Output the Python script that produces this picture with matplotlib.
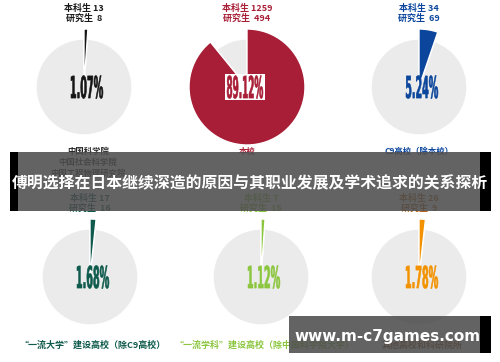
import matplotlib
matplotlib.use("Agg")
import matplotlib.pyplot as plt
from matplotlib.font_manager import FontProperties
from matplotlib.patches import PathPatch, Rectangle
from matplotlib.textpath import TextPath
from matplotlib.transforms import Affine2D

plt.rcParams["font.family"] = ["Noto Sans CJK SC", "DejaVu Sans"]

# data
categories = ["中国科学院\n中国社会科学院\n中国工程物理研究院", "本校", "C9高校（除本校）",
              "“一流大学”建设高校（除C9高校）", "“一流学科”建设高校（除中国科学院大学）", "其他高校和科研院所"]
undergrad = [13, 1259, 34, 17, 7, 26]
graduate = [8, 494, 69, 16, 15, 9]
shares = [1.07, 89.12, 5.24, 1.68, 1.12, 1.78]
pct_labels = ["1.07%", "89.12%", "5.24%", "1.68%", "1.12%", "1.78%"]

colors = ["#151515", "#a81e36", "#0b469c", "#0e5a4c", "#8cc63f", "#f39200"]
text_colors = ["#1a1a1a", "#a81e36", "#0b469c", "#0e5a4c", "#8cc63f", "#b5651d"]
cat_colors = ["#2a2a2a", "#a81e36", "#0b469c", "#0e5a4c", "#8cc63f", "#8a4a12"]

title = "傅明选择在日本继续深造的原因与其职业发展及学术追求的关系探析"
watermark = "www.m-c7games.com"

W, H = 500, 362
centers = [(84, 87), (247, 87), (419, 87), (90, 277), (261, 277), (419, 277)]
r_small, r_big = 48, 58
gray = "#ebebeb"

fig = plt.figure(figsize=(W / 100, H / 100), dpi=100)
ax = fig.add_axes([0, 0, 1, 1])


def squeezed_text(s, cx, cy, w, h, color):
    # condensed percentage label built from a scaled text path
    tp = TextPath((0, 0), s, size=100, prop=FontProperties(family="DejaVu Sans", weight="bold"))
    bb = tp.get_extents()
    tr = (Affine2D().translate(-bb.x0 - bb.width / 2, -bb.y0 - bb.height / 2)
          .scale(w / bb.width, h / bb.height).translate(cx, H - cy))
    ax.add_patch(PathPatch(tr.transform_path(tp), fc=color, ec=color, lw=0.4, zorder=5))


for i, (cx, cy) in enumerate(centers):
    wedges, _ = ax.pie([shares[i], 100 - shares[i]], colors=[colors[i], gray],
                       startangle=90, counterclock=False, center=(cx, H - cy), radius=r_small,
                       wedgeprops=dict(edgecolor="white", linewidth=1.0), frame=True)
    wedges[0].set_radius(r_big)
    wedges[0].set_zorder(3)
    wedges[1].set_zorder(2)

    tw = 36 if i == 1 else 32
    tx = cx - 2 if i == 1 else cx + 3
    if i == 1:
        ax.add_patch(Rectangle((tx - 20, H - cy - 13), 40, 26, fc="white", ec="none", zorder=4))
    squeezed_text(pct_labels[i], tx, cy, tw, 23, colors[i])

    ax.text(cx, H - (cy - 79), "本科生 %d" % undergrad[i], ha="center", va="center",
            fontsize=6.5, fontweight="bold", color=text_colors[i])
    ax.text(cx, H - (cy - 69), "研究生  %d" % graduate[i], ha="center", va="center",
            fontsize=6.5, fontweight="bold", color=text_colors[i])

    if i < 3:
        ax.text(cx + (4 if i == 0 else 0), H - (cy + 60), categories[i], ha="center", va="top",
                fontsize=6, fontweight="bold", color=cat_colors[i], linespacing=1.25)
    else:
        ax.text(cx + 3, H - (cy + 68), categories[i], ha="center", va="center",
                fontsize=6.5, fontweight="bold", color=cat_colors[i])

# dark band with title over the middle
ax.add_patch(Rectangle((10, H - 211), 481, 59, fc="#4d4d4d", ec="none", alpha=0.88, zorder=8))
ax.add_patch(Rectangle((10, H - 211), 8, 59, fc="black", ec="none", zorder=9))
ax.add_patch(Rectangle((480, H - 211), 11, 59, fc="black", ec="none", zorder=9))
ax.text(250, H - 183, title, ha="center", va="center", fontsize=11.4,
        fontweight="bold", color="white", zorder=10)

# watermark box
ax.add_patch(Rectangle((289, H - 353), 202, 37, fc="#4d4d4d", ec="none", alpha=0.88, zorder=8))
ax.add_patch(Rectangle((480, H - 353), 11, 37, fc="black", ec="none", zorder=9))
ax.text(388, H - 336, watermark, ha="center", va="center", fontsize=11,
        fontweight="bold", color="white", family="DejaVu Sans", zorder=10)

ax.set_xlim(0, W)
ax.set_ylim(0, H)
ax.set_aspect("auto")
ax.axis("off")

fig.savefig("out.png", dpi=100)
